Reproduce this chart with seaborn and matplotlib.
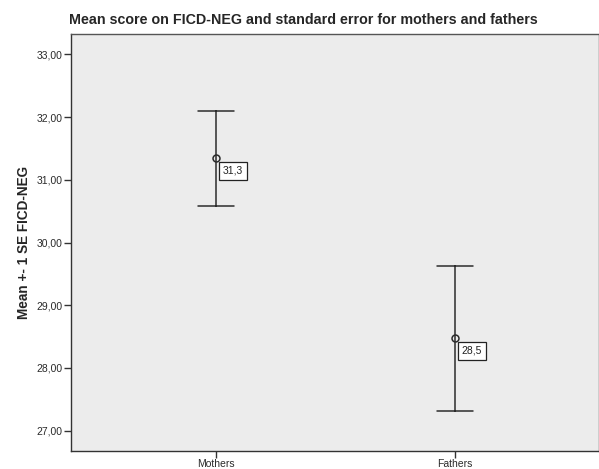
import matplotlib
matplotlib.use("Agg")
import matplotlib.pyplot as plt
import seaborn as sns
import pandas as pd
from matplotlib.ticker import FuncFormatter

groups = ["Mothers", "Fathers"]
means = [31.34, 28.47]
ses = [0.755, 1.155]
labels = ["31,3", "28,5"]
yticks = [27, 28, 29, 30, 31, 32, 33]

rows = []
for g, m, s in zip(groups, means, ses):
    for v in (m - s, m, m + s):
        rows.append({"group": g, "value": v})
df = pd.DataFrame(rows)

sns.set_style("white")
plt.rcParams["font.family"] = ["Liberation Sans", "DejaVu Sans"]

fig = plt.figure(figsize=(5.99, 4.69), dpi=100)
ax = fig.add_axes([71 / 599, 18 / 469, 528 / 599, 417 / 469])
ax.set_facecolor("#ececec")

sns.pointplot(data=df, x="group", y="value", order=groups,
              estimator="median", errorbar=("pi", 100),
              capsize=0.15, color="#2b2b2b", markers="o",
              linestyles="none", err_kws={"linewidth": 1.1},
              markersize=5, markerfacecolor="none", markeredgewidth=1.1,
              ax=ax)

for i, (m, lab) in enumerate(zip(means, labels)):
    ax.annotate(lab, xy=(i, m), xytext=(12, -9), textcoords="offset points",
                ha="center", va="center", fontsize=7.5, color="#222222",
                bbox=dict(boxstyle="square,pad=0.35", fc="white", ec="#222222", lw=0.9))

ax.set_xlim(-0.607, 1.602)
ax.set_ylim(26.676, 33.325)
ax.set_yticks(yticks)
ax.yaxis.set_major_formatter(FuncFormatter(lambda v, p: f"{v:.2f}".replace(".", ",")))
ax.tick_params(axis="both", direction="out", length=5, width=1, color="#333333",
               labelsize=7.5, labelcolor="#2a2a2a", pad=1,
               left=True, bottom=True)
ax.set_xlabel("")
ax.set_ylabel("Mean +- 1 SE FICD-NEG", fontsize=9.8, fontweight="bold", labelpad=4)
for s in ax.spines.values():
    s.set_color("#555555")
    s.set_linewidth(1)
ax.spines["left"].set_color("#333333")
ax.spines["bottom"].set_color("#333333")

fig.suptitle("Mean score on FICD-NEG and standard error for mothers and fathers",
             x=0.506, y=0.972, fontsize=10.3, fontweight="bold")

fig.savefig("out.png", dpi=100)
